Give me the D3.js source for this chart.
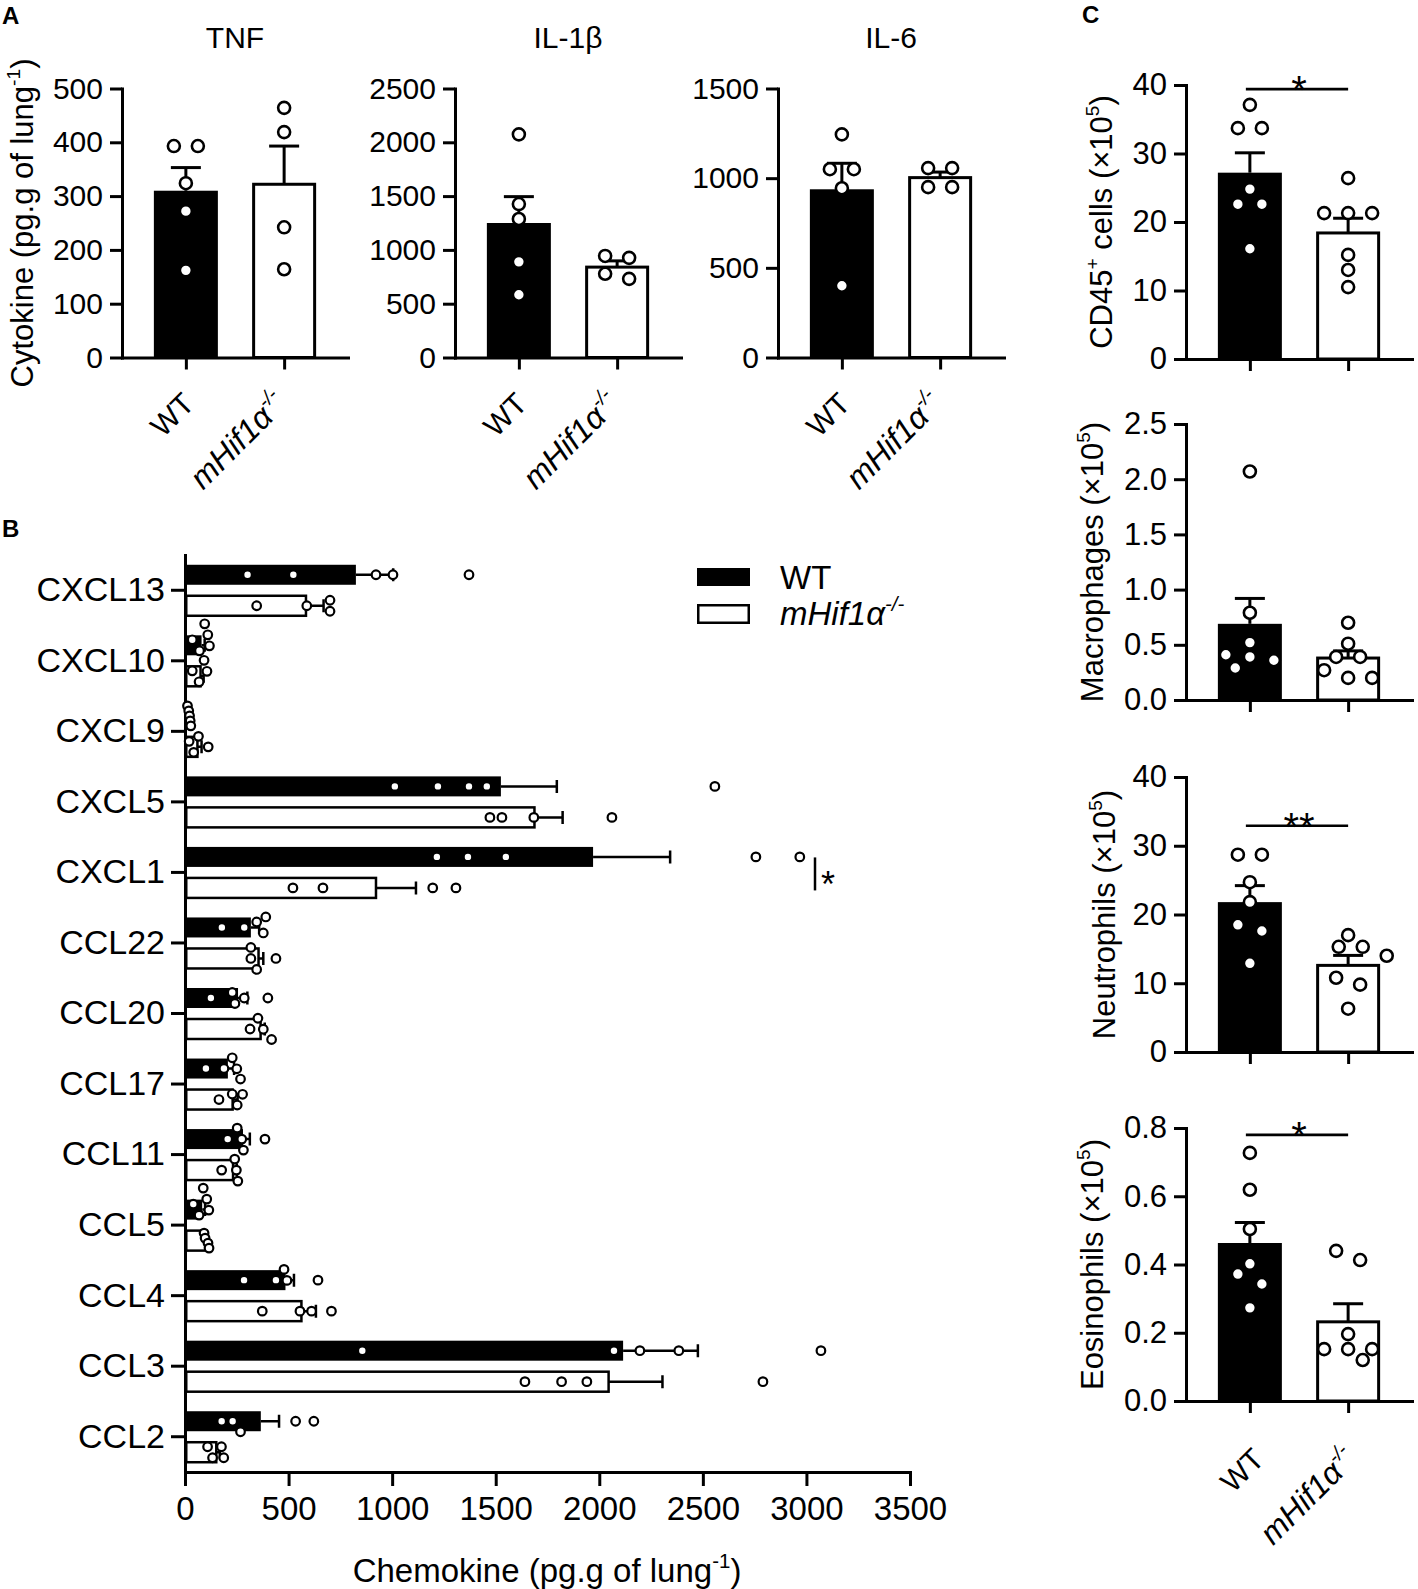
<!DOCTYPE html>
<html>
<head>
<meta charset="utf-8">
<title>Cytokines, chemokines and lung cells</title>
<script src="https://cdn.jsdelivr.net/npm/d3@7"></script>
<style>
  body { margin: 0; background: #fff; }
  svg { font-family: "Liberation Sans", Arial, Helvetica, sans-serif; }
  .axis path, .axis line { stroke: #000; stroke-width: 3; }
  .axis path { stroke-linecap: square; }
  .axis text { fill: #000; }
</style>
</head>
<body>
<script>
// ---- data ----
const koBase = "mHif1α", koSup = "-/-";
const groups = ["WT", koBase + koSup];

// A: cytokines, pg.g of lung-1  [WT, KO]
const tnfMean = [310, 322], tnfSem = [43, 71];
const tnfWT = [393, 393, 324, 272, 162];
const tnfKO = [464, 419, 242, 164];
const il1bMean = [1250, 840], il1bSem = [245, 58];
const il1bWT = [2074, 1426, 1287, 889, 583];
const il1bKO = [944, 926, 778, 731];
const il6Mean = [938, 1003], il6Sem = [145, 31];
const il6WT = [1244, 1050, 1050, 944, 400];
const il6KO = [1056, 1056, 950, 950];

// B: chemokines, pg.g of lung-1
const chemokines = ["CXCL13", "CXCL10", "CXCL9", "CXCL5", "CXCL1", "CCL22", "CCL20",
                    "CCL17", "CCL11", "CCL5", "CCL4", "CCL3", "CCL2"];
const chemWTMean = [825, 80, 20, 1525, 1970, 318, 256, 207, 280, 83, 485, 2115, 366];
const chemWTSem = [180, 15, 4, 270, 372, 40, 45, 30, 33, 14, 41, 361, 88];
const chemKOMean = [584, 75, 60, 1687, 922, 355, 365, 230, 232, 104, 562, 2045, 151];
const chemKOSem = [85, 15, 20, 136, 193, 23, 20, 24, 18, 6, 70, 260, 17];
const chemWTPts = [
  [302, 523, 922, 1004, 1371], [35, 70, 95, 110, 118], [12, 18, 22, 25, 28],
  [1013, 1221, 1371, 1457, 2558], [1216, 1366, 1549, 2756, 2968], [178, 286, 346, 378, 390],
  [125, 228, 241, 286, 400], [101, 188, 228, 250, 268], [206, 252, 274, 282, 386],
  [40, 68, 88, 105, 115], [285, 439, 478, 492, 642], [856, 2071, 2196, 2384, 3070],
  [177, 230, 268, 534, 622]];
const chemKOPts = [
  [346, 588, 700, 700], [35, 68, 92, 106], [20, 42, 65, 112],
  [1472, 1530, 1684, 2061], [521, 666, 1196, 1308], [318, 318, 346, 439],
  [314, 352, 378, 418], [164, 228, 252, 278], [177, 240, 248, 255],
  [92, 97, 111, 116], [373, 555, 611, 707], [1641, 1818, 1940, 2790],
  [109, 133, 176, 187]];
const chemTicks = [0, 500, 1000, 1500, 2000, 2500, 3000, 3500];

// C: cells (x10^5)
const cd45Mean = [27.2, 18.4], cd45Sem = [2.9, 2.15];
const cd45WT = [37.1, 33.7, 33.7, 24.8, 22.6, 22.6, 16.1];
const cd45KO = [26.4, 21.3, 21.3, 21.3, 15.2, 13.0, 10.5];
const macMean = [0.69, 0.38], macSem = [0.23, 0.065];
const macWT = [2.07, 0.79, 0.52, 0.41, 0.39, 0.36, 0.29];
const macKO = [0.70, 0.51, 0.39, 0.39, 0.27, 0.20, 0.20];
const neuMean = [21.8, 12.6], neuSem = [2.4, 1.45];
const neuWT = [28.7, 28.7, 24.7, 21.8, 18.5, 17.6, 12.9];
const neuKO = [17.0, 15.3, 15.3, 14.0, 10.8, 9.8, 6.3];
const eosMean = [0.463, 0.232], eosSem = [0.06, 0.053];
const eosWT = [0.727, 0.619, 0.504, 0.402, 0.372, 0.343, 0.273];
const eosKO = [0.44, 0.413, 0.196, 0.152, 0.152, 0.152, 0.12];

// ---- drawing ----
const svg = d3.select("body").append("svg").attr("width", 1418).attr("height", 1589);

// beeswarm: bins points into rows, spreads rows symmetrically, shifts on collision
function swarm(vals, scale, diam, spread) {
  const pts = vals.map(v => ({ v, p: scale(v) })).sort((a, b) => a.p - b.p);
  const rows = [];
  pts.forEach(d => {
    const r = rows[rows.length - 1];
    if (r && d.p - r[0].p < diam * 0.7) r.push(d); else rows.push([d]);
  });
  const placed = [];
  const clear = d => placed.every(q => Math.hypot(q.p - d.p, q.off - d.off) >= diam - 0.5);
  rows.forEach(r => {
    const s = r.length > 3 ? spread[1] : spread[0];
    for (let k = 0; k < 12; k++) {
      const shift = (k % 2 ? 1 : -1) * Math.ceil(k / 2) * diam / 2;
      r.forEach((d, i) => d.off = (i - (r.length - 1) / 2) * s + shift);
      if (r.every(clear)) break;
      if (k === 11) r.forEach((d, i) => d.off = (i - (r.length - 1) / 2) * s);
    }
    placed.push(...r);
  });
  return placed;
}

// text with superscripts: parts = [[text, isSup], ...]
function rich(t, parts, fs) {
  let up = false;
  parts.forEach(([s, sup]) => {
    const ts = t.append("tspan").text(s);
    if (sup) { ts.attr("font-size", fs * 0.62).attr("dy", -fs * 0.42); up = true; }
    else if (up) { ts.attr("dy", fs * 0.42); up = false; }
  });
  return t;
}

function groupLabel(t, name, fs) {
  if (name.endsWith(koSup)) {
    t.attr("font-style", "italic");
    rich(t, [[name.slice(0, -koSup.length), false], [koSup, true]], fs);
  } else t.text(name);
}

function styleAxis(a, fs) {
  a.attr("font-family", null).attr("font-size", fs);
}

function columnPanel(cfg) {
  const g = svg.append("g");
  const y = d3.scaleLinear().domain([0, cfg.max]).range(cfg.yRange);
  const x = d3.scalePoint().domain(groups).range([cfg.x0, cfg.x0 + 226]).padding(0.65);
  const bw = 64;

  g.selectAll(".bar").data(groups).join("rect")
    .attr("x", (d, i) => x(d) - bw / 2 + (i ? 1.5 : 0))
    .attr("width", (d, i) => bw - (i ? 3 : 0))
    .attr("y", (d, i) => y(cfg.mean[i]))
    .attr("height", (d, i) => y(0) - y(cfg.mean[i]))
    .attr("fill", (d, i) => i ? "#fff" : "#000")
    .attr("stroke", "#000").attr("stroke-width", (d, i) => i ? 3 : 0);

  g.append("g").attr("class", "axis").attr("transform", `translate(${cfg.x0},0)`)
    .call(d3.axisLeft(y).tickValues(cfg.ticks).tickFormat(cfg.fmt)
      .tickSize(12).tickPadding(7).tickSizeOuter(0))
    .call(a => styleAxis(a, cfg.fs));
  g.append("g").attr("class", "axis").attr("transform", `translate(0,${y(0)})`)
    .call(d3.axisBottom(x).tickSize(12).tickSizeOuter(0).tickFormat(""));

  groups.forEach((d, i) => {
    const top = y(cfg.mean[i] + cfg.sem[i]);
    g.append("line").attr("x1", x(d)).attr("x2", x(d))
      .attr("y1", y(cfg.mean[i])).attr("y2", top)
      .attr("stroke", "#000").attr("stroke-width", 3);
    g.append("line").attr("x1", x(d) - 15).attr("x2", x(d) + 15)
      .attr("y1", top).attr("y2", top)
      .attr("stroke", "#000").attr("stroke-width", 3);
  });

  [cfg.wt, cfg.ko].forEach((vals, i) => {
    g.selectAll(null).data(swarm(vals, y, 14.6, [24, 17])).join("circle")
      .attr("cx", d => x(groups[i]) + d.off).attr("cy", d => d.p).attr("r", 6)
      .attr("fill", "#fff").attr("stroke", "#000").attr("stroke-width", 2.6);
  });

  if (cfg.title) {
    g.append("text").attr("x", cfg.x0 + 113).attr("y", 48)
      .attr("text-anchor", "middle").attr("font-size", 30).text(cfg.title);
  }
  if (cfg.ytitle) {
    const t = g.append("text").attr("text-anchor", "middle").attr("font-size", cfg.yfs)
      .attr("transform", `translate(${cfg.ytitle.x},${(cfg.yRange[0] + cfg.yRange[1]) / 2}) rotate(-90)`);
    rich(t, cfg.ytitle.parts, cfg.yfs);
  }
  if (cfg.sig) {
    const ly = y(cfg.sig.v);
    g.append("line").attr("x1", x(groups[0]) - 4).attr("x2", x(groups[1]))
      .attr("y1", ly).attr("y2", ly).attr("stroke", "#000").attr("stroke-width", 2.6);
    g.append("text").attr("x", (x(groups[0]) + x(groups[1])) / 2).attr("y", ly + 15)
      .attr("text-anchor", "middle").attr("font-size", 40).text(cfg.sig.label);
  }
  if (cfg.lab) {
    groups.forEach((d, i) => {
      const fs = i ? 32 : 30;
      const t = g.append("text").attr("text-anchor", "end").attr("font-size", fs)
        .attr("transform", `translate(${x(d) + cfg.lab[0] - (i ? 6 : 0)},${y(0) + cfg.lab[1]}) rotate(-45)`);
      groupLabel(t, d, fs);
    });
  }
}

// ---- panel A ----
const fmtInt = d3.format("d"), fmt1 = d3.format(".1f");
columnPanel({ title: "TNF", x0: 122, yRange: [357.5, 88.5], max: 500, ticks: d3.range(0, 501, 100),
  fmt: fmtInt, fs: 30, mean: tnfMean, sem: tnfSem, wt: tnfWT, ko: tnfKO, lab: [10, 48],
  yfs: 31, ytitle: { x: 33, parts: [["Cytokine (pg.g of lung", false], ["-1", true], [")", false]] } });
columnPanel({ title: "IL-1β", x0: 455, yRange: [357.5, 88.5], max: 2500, ticks: d3.range(0, 2501, 500),
  fmt: fmtInt, fs: 30, mean: il1bMean, sem: il1bSem, wt: il1bWT, ko: il1bKO, lab: [10, 48] });
columnPanel({ title: "IL-6", x0: 778, yRange: [357.5, 88.5], max: 1500, ticks: d3.range(0, 1501, 500),
  fmt: fmtInt, fs: 30, mean: il6Mean, sem: il6Sem, wt: il6WT, ko: il6KO, lab: [10, 48] });

// ---- panel C ----
const x10 = [" (×10", false];
columnPanel({ x0: 1186, yRange: [359, 85], max: 40, ticks: d3.range(0, 41, 10), fmt: fmtInt, fs: 31,
  mean: cd45Mean, sem: cd45Sem, wt: cd45WT, ko: cd45KO, sig: { v: 39.4, label: "*" },
  yfs: 31, ytitle: { x: 1112, parts: [["CD45", false], ["+", true], [" cells", false], x10, ["5", true], [")", false]] } });
columnPanel({ x0: 1186, yRange: [700, 424], max: 2.5, ticks: d3.range(0, 2.51, 0.5), fmt: fmt1, fs: 31,
  mean: macMean, sem: macSem, wt: macWT, ko: macKO,
  yfs: 31, ytitle: { x: 1103, parts: [["Macrophages", false], x10, ["5", true], [")", false]] } });
columnPanel({ x0: 1186, yRange: [1052, 777], max: 40, ticks: d3.range(0, 41, 10), fmt: fmtInt, fs: 31,
  mean: neuMean, sem: neuSem, wt: neuWT, ko: neuKO, sig: { v: 32.9, label: "**" },
  yfs: 31, ytitle: { x: 1115, parts: [["Neutrophils", false], x10, ["5", true], [")", false]] } });
columnPanel({ x0: 1186, yRange: [1401, 1128], max: 0.8, ticks: d3.range(0, 0.81, 0.2), fmt: fmt1, fs: 31,
  mean: eosMean, sem: eosSem, wt: eosWT, ko: eosKO, sig: { v: 0.78, label: "*" }, lab: [16, 60],
  yfs: 31, ytitle: { x: 1103, parts: [["Eosinophils", false], x10, ["5", true], [")", false]] } });

// ---- panel B ----
const gB = svg.append("g");
const xB = d3.scaleLinear().domain([0, 3500]).range([185, 910]);
const yB = d3.scaleBand().domain(chemokines).range([555, 1472]);
const barOff = [-15.5, 15.5], bh = 20;
const rowsB = chemokines.flatMap((c, k) => [
  { c, grp: 0, mean: chemWTMean[k], sem: chemWTSem[k], pts: chemWTPts[k] },
  { c, grp: 1, mean: chemKOMean[k], sem: chemKOSem[k], pts: chemKOPts[k] }]);
const cyB = d => yB(d.c) + yB.bandwidth() / 2 + barOff[d.grp];

gB.selectAll(".hbar").data(rowsB).join("rect")
  .attr("x", d => xB(0) + (d.grp ? 1.25 : 0))
  .attr("width", d => xB(d.mean) - xB(0) - (d.grp ? 1.25 : 0))
  .attr("y", d => cyB(d) - bh / 2).attr("height", bh)
  .attr("fill", d => d.grp ? "#fff" : "#000")
  .attr("stroke", "#000").attr("stroke-width", d => d.grp ? 2.5 : 0);

gB.selectAll(".herr").data(rowsB).join("path")
  .attr("d", d => {
    const x1 = xB(d.mean), x2 = xB(d.mean + d.sem), c = cyB(d);
    return `M${x1},${c}H${x2}M${x2},${c - 6.5}V${c + 6.5}`;
  })
  .attr("fill", "none").attr("stroke", "#000").attr("stroke-width", 2.5);

gB.append("g").attr("class", "axis").attr("transform", "translate(185,0)")
  .call(d3.axisLeft(yB).tickSize(14).tickPadding(6).tickSizeOuter(0))
  .call(a => styleAxis(a, 34));
gB.append("g").attr("class", "axis").attr("transform", "translate(0,1472)")
  .call(d3.axisBottom(xB).tickValues(chemTicks).tickFormat(fmtInt)
    .tickSize(14).tickPadding(11).tickSizeOuter(0))
  .call(a => styleAxis(a, 33));

rowsB.forEach(r => {
  gB.selectAll(null).data(swarm(r.pts, xB, 10.5, [11, 5])).join("circle")
    .attr("cx", d => d.p).attr("cy", d => cyB(r) + d.off).attr("r", 4.3)
    .attr("fill", "#fff").attr("stroke", "#000").attr("stroke-width", 2.2);
});

rich(gB.append("text").attr("x", 547).attr("y", 1582).attr("text-anchor", "middle").attr("font-size", 33),
  [["Chemokine (pg.g of lung", false], ["-1", true], [")", false]], 33);

// CXCL1 significance
const sigY = yB("CXCL1") + yB.bandwidth() / 2;
gB.append("line").attr("x1", 815).attr("x2", 815).attr("y1", sigY - 15).attr("y2", sigY + 18)
  .attr("stroke", "#000").attr("stroke-width", 2.5);
gB.append("text").attr("x", 821).attr("y", sigY + 25).attr("font-size", 36).text("*");

// legend
const leg = gB.append("g");
groups.forEach((d, i) => {
  const ly = 568 + i * 36;
  leg.append("rect").attr("x", 697 + i * 1.25).attr("y", ly + i * 1.25)
    .attr("width", 53 - i * 2.5).attr("height", 18 - i * 0.5)
    .attr("fill", i ? "#fff" : "#000").attr("stroke", "#000").attr("stroke-width", i ? 2.5 : 0);
  groupLabel(leg.append("text").attr("x", 780).attr("y", ly + 21).attr("font-size", 33), d, 33);
});

// panel letters
[["A", 2, 24], ["B", 2, 537], ["C", 1082, 23]].forEach(([s, x, y]) =>
  svg.append("text").attr("x", x).attr("y", y).attr("font-size", 24)
    .attr("font-weight", "bold").text(s));
</script>
</body>
</html>
